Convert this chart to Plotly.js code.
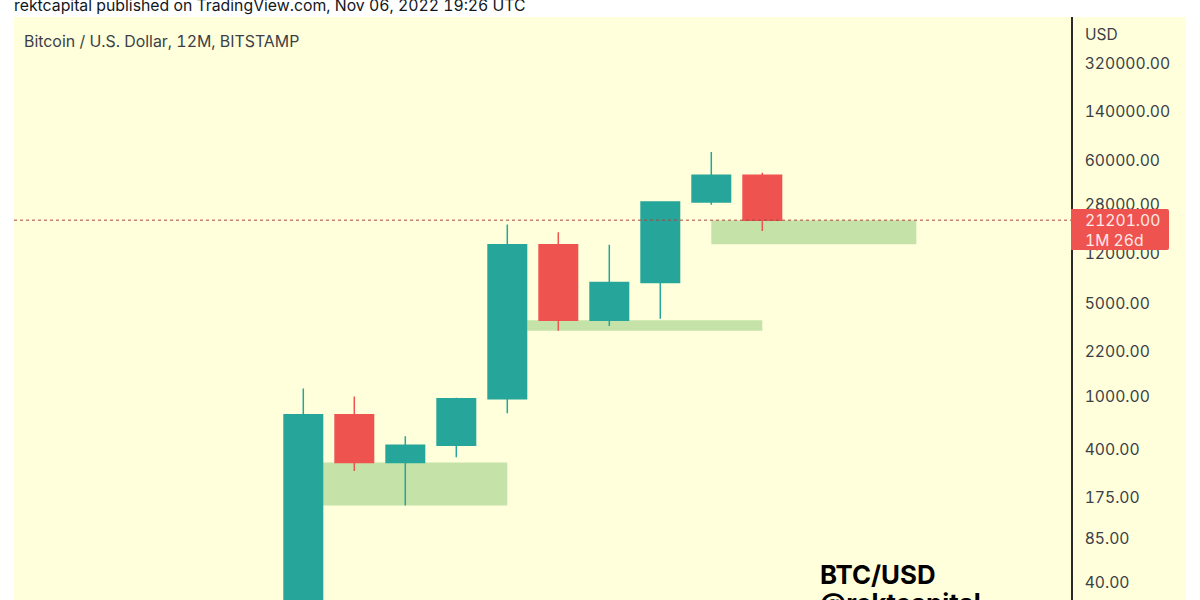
<!DOCTYPE html>
<html><head><meta charset="utf-8">
<script src="https://cdn.plot.ly/plotly-3.0.1.min.js"></script>
<style>html,body{margin:0;padding:0;background:#fff;overflow:hidden}#c{width:1200px;height:600px}
svg text{font-feature-settings:"tnum" 1;font-variant-numeric:tabular-nums}</style>
</head><body><div id="c"></div>
<script>
const years  = [2013,2014,2015,2016,2017,2018,2019,2020,2021,2022];
const opens  = [13.5,730,320,430,963,13880,3742,7194,28990,46200];
const highs  = [1150,1000,502,980,19666,17200,13880,29000,69000,48200];
const lows   = [13,276,152,350,750,3122,3400,3850,27700,17600];
const closes = [730,320,430,963,13880,3742,7194,28990,46200,21201];

const tickValues = [320000,140000,60000,28000,12000,5000,2200,1000,400,175,85,40];
const tickLabels = ["320000.00","140000.00","60000.00","28000.00","12000.00","5000.00","2200.00","1000.00","400.00","175.00","85.00","40.00"];

const zoneStart = [2013,2017.39,2021];
const zoneEnd   = [2017,2022,2025.02];
const zoneTop   = [320,3742,21201];
const zoneBot   = [152,3122,14000];

const lastPrice = 21201;
const W=1200,H=600,L=14,R=1071,T=17,B=600;
const PX=(p)=>(p-L)/(R-L);
const PY=(p)=>(B-p)/(B-T);
const FONT='Inter, "Noto Sans", sans-serif';
const INK='#3c3f47';

const shapes=[
 {type:'rect',xref:'paper',yref:'paper',x0:0,x1:PX(1186),y0:0,y1:1,fillcolor:'#FFFFDC',line:{width:0},layer:'below'},
];
zoneStart.forEach((s,i)=>shapes.push({type:'rect',xref:'x',yref:'y',x0:s,x1:zoneEnd[i],y0:zoneBot[i],y1:zoneTop[i],fillcolor:'#C5E3A8',line:{width:0},layer:'below'}));
shapes.push({type:'line',xref:'paper',yref:'y',x0:0,x1:1,y0:lastPrice,y1:lastPrice,line:{color:'#a8463f',width:1,dash:'dot'},layer:'above'});
const rr=(x0,y0,x1,y1,r)=>`M${PX(x0)},${PY(y0)} L${PX(x1-r)},${PY(y0)} Q${PX(x1)},${PY(y0)} ${PX(x1)},${PY(y0+r)} L${PX(x1)},${PY(y1-r)} Q${PX(x1)},${PY(y1)} ${PX(x1-r)},${PY(y1)} L${PX(x0)},${PY(y1)} Z`;
shapes.push({type:'path',xref:'paper',yref:'paper',path:rr(1071,209,1169,250,2),fillcolor:'#EF5350',line:{width:0},layer:'above'});

const text=(t,x,y,size,color,weight,anchor)=>({text:t,xref:'paper',yref:'paper',x:PX(x),y:PY(y),xanchor:anchor||'left',yanchor:'middle',showarrow:false,font:{family:FONT,size:size,color:color,weight:weight||400},align:'left'});

const annotations=[
 text('rektcapital published on TradingView.com, Nov 06, 2022 19:26 UTC',12,5,15.8,'#131722'),
 text('Bitcoin / U.S. Dollar, 12M, BITSTAMP',22,41,15.9,INK),
 text('USD',1083,35,15.5,INK),
 text('21201.00',1083,220.5,15.7,'#FFE9E6'),
 text('1M 26d',1083,240,15.7,'#FFE9E6'),
 text('BTC/USD',818,574,25.8,'#000',700),
 text('@rektcapital',818,602,25.8,'#000',700),
];

Plotly.newPlot('c',[{
  type:'candlestick',x:years,open:opens,high:highs,low:lows,close:closes,
  increasing:{line:{color:'#26A69A',width:1.5},fillcolor:'#26A69A'},
  decreasing:{line:{color:'#EF5350',width:1.5},fillcolor:'#EF5350'},
  whiskerwidth:0,hoverinfo:'skip',showlegend:false
}],{
  width:W,height:H,margin:{l:L,r:W-R,t:T,b:H-B,pad:0},
  paper_bgcolor:'#ffffff',plot_bgcolor:'rgba(0,0,0,0)',
  showlegend:false,boxgap:0.245,boxgroupgap:0,
  xaxis:{type:'linear',range:[2013+(L-303.3)/51,2013+(R-303.3)/51],visible:false,rangeslider:{visible:false},fixedrange:true},
  yaxis:{type:'log',side:'right',range:[5.505-(B-63.4)/133,5.505+(63.4-T)/133],tickmode:'array',tickvals:tickValues,ticktext:tickLabels,
         showgrid:false,zeroline:false,showline:true,linecolor:'#2a2a2a',linewidth:1.5,ticks:'outside',ticklen:9,tickcolor:'rgba(0,0,0,0)',tickwidth:0,
         tickfont:{family:FONT,size:15.7,color:INK},fixedrange:true},
  shapes:shapes,annotations:annotations
},{displayModeBar:false,staticPlot:true});
</script></body></html>
